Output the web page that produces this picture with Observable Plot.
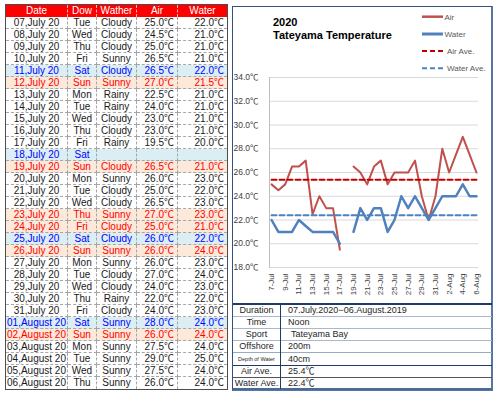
<!DOCTYPE html>
<html>
<head>
<meta charset="utf-8">
<script src="https://cdn.jsdelivr.net/npm/d3@7"></script>
<script src="https://cdn.jsdelivr.net/npm/@observablehq/plot@0.6"></script>
<style>
  html, body { margin: 0; padding: 0; background: #fff; }
  #page { position: relative; width: 500px; height: 398px; background: #fff; overflow: hidden;
          font-family: "Liberation Sans", Arial, "Noto Sans CJK JP", sans-serif; }
  .abs { position: absolute; box-sizing: border-box; white-space: nowrap; }
</style>
</head>
<body>
<div id="page"></div>
<script>
// ---------------- data ----------------
const dates = ["07,July 20","08,July 20","09,July 20","10,July 20","11,July 20","12,July 20","13,July 20",
  "14,July 20","15,July 20","16,July 20","17,July 20","18,July 20","19,July 20","20,July 20","21,July 20",
  "22,July 20","23,July 20","24,July 20","25,July 20","26,July 20","27,July 20","28,July 20","29,July 20",
  "30,July 20","31,July 20","01,August 20","02,August 20","03,August 20","04,August 20","05,August 20","06,August 20"];
const dow = ["Tue","Wed","Thu","Fri","Sat","Sun","Mon","Tue","Wed","Thu","Fri","Sat","Sun","Mon","Tue","Wed",
  "Thu","Fri","Sat","Sun","Mon","Tue","Wed","Thu","Fri","Sat","Sun","Mon","Tue","Wed","Thu"];
const weather = ["Cloudy","Cloudy","Cloudy","Sunny","Cloudy","Sunny","Rainy","Rainy","Cloudy","Cloudy","Rainy","",
  "Cloudy","Sunny","Cloudy","Cloudy","Sunny","Cloudy","Cloudy","Sunny","Sunny","Cloudy","Cloudy","Rainy","Cloudy",
  "Sunny","Sunny","Sunny","Sunny","Sunny","Sunny"];
const air = [25.0,24.5,25.0,26.5,26.5,27.0,22.5,24.0,23.0,23.0,19.5,null,26.5,26.0,25.0,26.5,27.0,25.0,26.0,26.0,
  26.0,27.0,24.0,22.0,24.0,28.0,26.0,27.5,29.0,27.5,26.0];
const water = [22.0,21.0,21.0,21.0,22.0,21.5,21.0,21.0,21.0,21.0,20.0,null,21.0,23.0,22.0,23.0,23.0,21.0,22.0,24.0,
  23.0,24.0,23.0,22.0,23.0,24.0,24.0,24.0,25.0,24.0,24.0];
const dayType = ["","","","","sat","sun","","","","","","sat","sun","","","","hol","hol","sat","sun","","","","","",
  "sat","sun","","","",""];
const headers = ["Date","Dow","Wather","Air","Water"];
const airAve = 25.4;
const waterAve = 22.4;
const yTicks = [18,20,22,24,26,28,30,32,34];
const titleLines = ["2020","Tateyama Temperature"];
const legendLabels = ["Air","Water","Air Ave.","Water Ave."];
const infoLabels = ["Duration","Time","Sport","Offshore","Depth of Water","Air Ave.","Water Ave."];
const infoValues = ["07.July.2020\u221206.August.2019","Noon","Tateyama Bay","200m","40cm","25.4\u2103","22.4\u2103"];

// ---------------- helpers ----------------
const page = document.getElementById("page");
function el(tag, css, text) {
  const e = document.createElement(tag);
  e.className = "abs";
  Object.assign(e.style, css);
  if (text != null) e.textContent = text;
  return e;
}
const fmt1 = v => v == null ? "" : v.toFixed(1) + "\u2103";

// ---------------- left table ----------------
const tbl = el("div", {left: "5px", top: "4px", width: "223px", height: "386px", border: "1px solid #4d4d4d"});
page.appendChild(tbl);
const colX = [0, 62, 91, 131, 172, 221];
const align = ["center","center","center","right","right"];
const headerH = 12, rowH = 12;
headers.forEach((h, c) => {
  tbl.appendChild(el("div", {
    left: colX[c] + "px", top: "0px", width: (colX[c+1]-colX[c]) + "px", height: headerH + "px",
    background: "#ff0000", color: "#fff", fontSize: "10px", lineHeight: headerH + "px", textAlign: "center",
    borderRight: c < 4 ? "1px dashed #ffb3b3" : "none"
  }, h));
});
const bgFor = {sat: "#daeef3", sun: "#fde9d9", hol: "#fde9d9", "": "#fff"};
const fgFor = {sat: "#0000ff", sun: "#ff0000", hol: "#ff0000", "": "#1a1a1a"};
dates.forEach((d, r) => {
  const cells = [d, dow[r], weather[r], fmt1(air[r]), fmt1(water[r])];
  cells.forEach((t, c) => {
    tbl.appendChild(el("div", {
      left: colX[c] + "px", top: (headerH + r*rowH) + "px", width: (colX[c+1]-colX[c]) + "px", height: rowH + "px",
      background: bgFor[dayType[r]], color: fgFor[dayType[r]], fontSize: "10px", lineHeight: (rowH) + "px",
      textAlign: align[c], paddingRight: align[c] === "right" ? "3px" : "0px",
      borderRight: c < 4 ? "1px dashed #a6a6a6" : "none",
      borderBottom: r < dates.length - 1 ? "1px dashed #a6a6a6" : "none"
    }, t));
  });
});

// ---------------- right box ----------------
page.appendChild(el("div", {left: "232px", top: "6px", width: "261px", height: "385px",
  borderLeft: "1px solid #2f5183", borderTop: "1px solid #2f5183", borderRight: "2px solid #5877a0", borderBottom: "2px solid #5877a0"}));

// chart
const parseD = s => { const [dd, rest] = s.split(","); const m = rest.split(" ")[0];
  return new Date(Date.UTC(2020, m === "July" ? 6 : 7, +dd)); };
const xDates = dates.map(parseD);
const rows = xDates.map((x, i) => ({x, air: air[i], water: water[i]}));
const xTicks = xDates.filter((d, i) => i % 2 === 0);
const pad = 0.3 * 864e5;
const aveAir = [{x: xDates[0], y: airAve}, {x: xDates[xDates.length-1], y: airAve}];
const aveWater = [{x: xDates[0], y: waterAve}, {x: xDates[xDates.length-1], y: waterAve}];
const font = '"Liberation Sans", Arial, "Noto Sans CJK JP", sans-serif';

const chart = Plot.plot({
  width: 258, height: 297,
  marginLeft: 36, marginRight: 13, marginTop: 70, marginBottom: 37,
  style: {fontFamily: font, fontSize: "8px", color: "#404040", background: "transparent", overflow: "visible"},
  x: {type: "utc", domain: [new Date(+xDates[0] - pad), new Date(+xDates[xDates.length-1] + pad)], label: null},
  y: {domain: [18, 34], label: null},
  marks: [
    Plot.gridY(yTicks, {stroke: "#d9d9d9", strokeOpacity: 1}),
    Plot.frame({anchor: "left", stroke: "#bfbfbf"}),
    Plot.axisY(yTicks, {tickSize: 0, tickPadding: 11, tickFormat: d => d.toFixed(1) + "\u2103", fontSize: 8.5, fill: "#404040"}),
    Plot.axisX(xTicks, {tickSize: 0, tickPadding: 6, tickRotate: -90, tickFormat: d3.utcFormat("%-d-%b"), fontSize: 8, fill: "#404040"}),
    Plot.lineY(rows, {x: "x", y: "air", stroke: "#c0504d", strokeWidth: 2}),
    Plot.lineY(rows, {x: "x", y: "water", stroke: "#4f81bd", strokeWidth: 2.5}),
    Plot.line(aveAir, {x: "x", y: "y", stroke: "#c00000", strokeWidth: 2, strokeDasharray: "5,3"}),
    Plot.line(aveWater, {x: "x", y: "y", stroke: "#4f81bd", strokeWidth: 2, strokeDasharray: "5,3"})
  ]
});
const holder = el("div", {left: "233px", top: "7px", width: "258px", height: "297px"});
holder.appendChild(chart);
page.appendChild(holder);

// title
page.appendChild(el("div", {left: "273px", top: "16px", fontSize: "11px", fontWeight: "bold", lineHeight: "12px", color: "#000"}, titleLines[0]));
page.appendChild(el("div", {left: "273px", top: "29px", fontSize: "11px", fontWeight: "bold", lineHeight: "12px", color: "#000"}, titleLines[1]));

// legend
const legendStyles = [
  {stroke: "#c0504d", w: 2.5, dash: null},
  {stroke: "#4f81bd", w: 3, dash: null},
  {stroke: "#c00000", w: 2, dash: "5,3"},
  {stroke: "#4f81bd", w: 2, dash: "5,3"}
];
const legendY = [16.7, 34, 51, 68.3];
const lg = d3.create("svg").attr("width", 80).attr("height", 80)
  .style("position", "absolute").style("left", "415px").style("top", "0px").style("overflow", "visible");
legendLabels.forEach((t, i) => {
  const s = legendStyles[i];
  lg.append("line").attr("x1", 7).attr("x2", 28).attr("y1", legendY[i]).attr("y2", legendY[i])
    .attr("stroke", s.stroke).attr("stroke-width", s.w).attr("stroke-dasharray", s.dash);
  lg.append("text").attr("x", i < 2 ? 29.5 : 32).attr("y", legendY[i]).attr("dy", "0.35em")
    .attr("font-size", 8).attr("font-family", font).attr("fill", "#595959").text(t);
});
page.appendChild(lg.node());

// info table
const infoY = [304, 316, 328, 340, 352, 365, 377, 389];
const lineColors = ["#1f3b66", "#aab8cc", "#aab8cc", "#aab8cc", "#9aaac0", "#1f3b66", "#555", "#4a6a98"];
infoY.forEach((y, i) => {
  page.appendChild(el("div", {left: "233px", top: (y - (i === 0 || i === 7 ? 1 : 0)) + "px", width: "259px",
    height: (i === 0 || i === 7 ? 2 : 1) + "px", background: lineColors[i]}));
});
page.appendChild(el("div", {left: "280px", top: "304px", width: "1px", height: "85px", background: "#1f3b66"}));
infoLabels.forEach((t, i) => {
  const h = infoY[i+1] - infoY[i];
  const small = t === "Depth of Water";
  page.appendChild(el("div", {left: "233px", top: (infoY[i] + 1) + "px", width: "47px", height: (h - 1) + "px",
    lineHeight: (h - 1) + "px", textAlign: "center", fontSize: small ? "5.5px" : "9px", color: "#262626"}, t));
  page.appendChild(el("div", {left: (t === "Sport" ? 291 : 288) + "px", top: (infoY[i] + 1) + "px", height: (h - 1) + "px",
    lineHeight: (h - 1) + "px", fontSize: "9px", color: "#262626"}, infoValues[i]));
});
</script>
</body>
</html>
